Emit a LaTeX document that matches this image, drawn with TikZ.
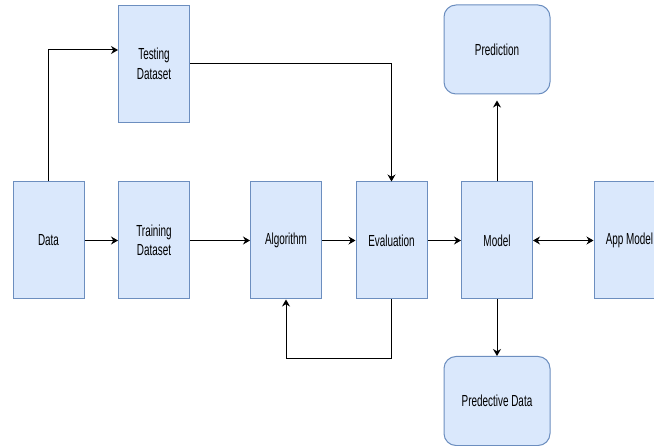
\documentclass[tikz,border=0pt]{standalone}
\usepackage{fontspec}
\newfontfamily\flowfont[FakeStretch=0.62]{Liberation Sans}
\usetikzlibrary{positioning,arrows.meta}
\definecolor{boxfill}{HTML}{DAE8FC}
\definecolor{boxline}{HTML}{6C8EBF}

\begin{document}
\begin{tikzpicture}[x=1pt,y=1pt,node distance=105.5pt,on grid,
		block/.style={draw=boxline,fill=boxfill,line width=1pt,minimum width=71pt,minimum height=117pt,
			inner sep=0pt,align=center,font=\flowfont\fontsize{16}{19.5}\selectfont},
		result/.style={block,rounded corners=12pt,minimum width=106pt,minimum height=89pt},
		arr/.style={-{Stealth[length=7pt,width=8pt]},line width=1pt},
		darr/.style={{Stealth[length=7pt,width=8pt]}-{Stealth[length=7pt,width=8pt]},line width=1pt}]
		\useasboundingbox (0,0) rectangle (654,445);
		\clip (0,0) rectangle (654,445);
		\node[block] (data) at (48.5,204.5) {Data};
		\node[block] (training) [right=of data] {Training\\Dataset};
		\node[block] (testing) [above=176.5pt of training] {Testing\\Dataset};
		\node[block] (algorithm) [right=132pt of training] {Algorithm};
		\node[block] (evaluation) [right=of algorithm] {Evaluation};
		\node[block] (model) [right=of evaluation] {Model};
		\node[block] (appmodel) [right=132.5pt of model] {App Model};
		\node[result] (prediction) [above=191pt of model] {Prediction};
		\node[result] (predective) [below=160.5pt of model] {Predective Data};
		\draw[arr] (data.north) |- ([yshift=14pt]testing.west);
		\draw[arr] (data) -- (training);
		\draw[arr] (training) -- (algorithm);
		\draw[arr] (algorithm) -- (evaluation);
		\draw[arr] (testing.east) -| (evaluation.north);
		\draw[arr] (evaluation.south) -- ++(0,-59pt) -| (algorithm.south);
		\draw[arr] (evaluation) -- (model);
		\draw[darr] (model) -- (appmodel);
		\draw[arr,shorten >=6pt] (model.north) -- (prediction.south);
		\draw[arr] (model.south) -- (predective.north);
	\end{tikzpicture}
\end{document}
